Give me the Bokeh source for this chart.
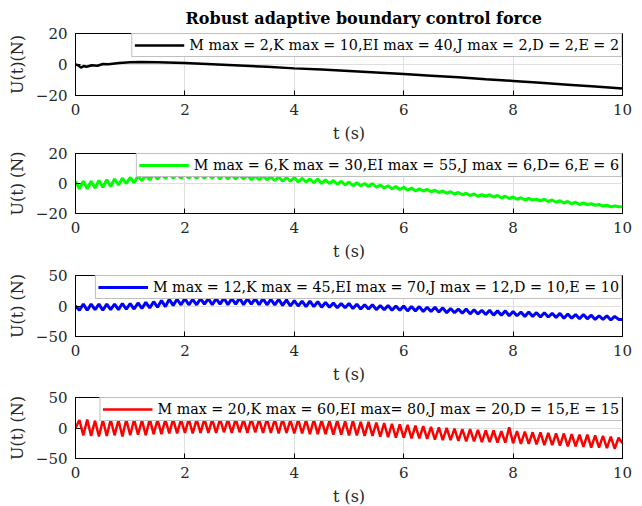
import numpy as np
from bokeh.plotting import figure
from bokeh.layouts import column
from bokeh.models import Range1d, FixedTicker
from bokeh.embed import file_html
from bokeh.resources import INLINE

# ---------------- data ----------------
x_ticks = [0, 2, 4, 6, 8, 10]

t_black = [0, 0.05, 0.1, 0.15, 0.2, 0.3, 0.4, 0.5, 0.6, 0.8, 1.0, 1.2, 1.5, 2.0,
           2.5, 3.0, 3.5, 4.0, 4.5, 5.0, 5.5, 6.0, 6.5, 7.0, 7.5, 8.0, 8.5, 9.0, 9.5, 10.0]
u_black = [0, -0.5, -2.0, -1.0, -1.5, -0.5, -0.8, 0.3, 0.2, 1.0, 1.5, 1.6, 1.5, 1.0,
           0.2, -0.6, -1.5, -2.5, -3.3, -4.2, -5.2, -6.2, -7.2, -8.3, -9.5, -10.6, -11.8, -13.0, -14.2, -15.5]

# sample times of the oscillating responses (141 samples over 0..10 s)
t_osc = list(np.linspace(0, 10, 141))

u_green = [1.5, -3.5, 1.5, -3.5, 1.5, -3, 2, -2.5,
           2.5, -2, 3, -1, 3.5, 0, 4,
           0.5, 5, 2, 5.5, 2.5, 6, 3,
           6, 3.5, 6.5, 3.5, 6, 3.5, 6.5, 3.5, 6, 3.5, 6, 3.5, 6, 3.5,
           6, 3, 6, 3, 5.5, 3, 5.5, 3, 5.5, 2.5, 5, 2.5, 5, 2.5,
           4.5, 2, 4.5, 1.5, 4, 1.5, 4, 1, 3.5, 1, 3, 0.5, 3, 0,
           2.5, 0, 2, -0.5, 1.5, -1, 1, -1.5, 0.5, -1.5, 0, -2, 0, -2.5,
           -1, -3, -1.5, -3.5, -2, -4, -2.5, -4.5, -3, -5, -3.5, -5, -4, -5.5,
           -4.5, -6, -5, -6.5, -5.5, -7, -6, -7.5, -6.5, -8, -7, -8.5, -7.5, -8.5,
           -7.5, -9, -8, -9.5, -8.5, -10, -9, -10.5, -9.5, -11, -10, -11, -10.5, -11.5,
           -10.5, -12, -11, -12.5, -11.5, -13, -12, -13.5, -12.5, -14, -13, -14, -13.5, -14.5,
           -14, -15, -14.5, -15.5, -15, -15.5, -15.5]

u_blue = [0, -7, 3, -7, 3, -6, 3, -7,
          3, -6, 3, -6, 4, -5, 4,
          -5, 5, -4, 6, -3, 7, -2,
          9, -1, 11, 1, 11, 2, 12, 2, 11, 2, 12, 3, 12, 2,
          12, 3, 13, 2, 12, 3, 13, 2, 12, 3, 12, 2, 12, 2,
          11, 2, 11, 1, 10, 0, 9, 0, 8, -1, 8, -1, 7, -2,
          6, -2, 5, -3, 4, -3, 4, -4, 3, -5, 2, -5, 2, -6,
          1, -6, 1, -7, 0, -7, 0, -8, -1, -8, -1, -9, -2, -9,
          -2, -10, -3, -11, -4, -11, -5, -12, -5, -13, -6, -13, -7, -14,
          -7, -15, -8, -15, -8, -16, -9, -16, -10, -17, -10, -17, -11, -18,
          -11, -18, -12, -19, -12, -20, -13, -20, -14, -21, -14, -21, -15, -22,
          -16, -22, -16, -23, -17, -22, -22]

u_red = [0, 13, -12, 14, -13, 12, -14, 13,
         -13, 14, -12, 13, -14, 14, -12,
         14, -11, 13, -12, 15, -10, 14,
         -10, 14, -9, 15, -9, 14, -8, 15, -9, 14, -8, 15, -8, 14,
         -8, 15, -7, 14, -8, 15, -7, 14, -8, 16, -7, 14, -8, 15,
         -8, 14, -9, 15, -8, 13, -9, 14, -9, 13, -10, 14, -10, 13,
         -10, 12, -11, 13, -11, 11, -12, 12, -12, 10, -13, 10, -13, 9,
         -14, 8, -15, 7, -16, 6, -16, 5, -17, 4, -17, 3, -18, 2,
         -19, 1, -20, 0, -20, -1, -21, -2, -22, -2, -22, -3, -23, -4,
         -23, -4, -24, -5, -24, 1, -25, -5, -26, -6, -26, -7, -27, -7,
         -28, -8, -28, -9, -29, -9, -30, -10, -30, -11, -31, -11, -32, -12,
         -32, -13, -33, -14, -34, -16, -25]

labels = ["M max = 2,K max = 10,EI max = 40,J max = 2,D = 2,E = 2",
          "M max = 6,K max = 30,EI max = 55,J max = 6,D= 6,E = 6",
          "M max = 12,K max = 45,EI max = 70,J max = 12,D = 10,E = 10",
          "M max = 20,K max = 60,EI max= 80,J max = 20,D = 15,E = 15"]
y_labels = ["U(t)(N)", "U(t) (N)", "U(t) (N)", "U(t) (N)"]
y_limits = [(-20, 20), (-20, 20), (-50, 50), (-50, 50)]
y_ticks = [[-20, 0, 20], [-20, 0, 20], [-50, 0, 50], [-50, 0, 50]]
title_text = "Robust adaptive boundary control force"

FONT = "DejaVu Serif"

series = [(t_black, u_black, "#000000", 2.5),
          (t_osc, u_green, "#00ff00", 3.0),
          (t_osc, u_blue, "#0000ff", 3.0),
          (t_osc, u_red, "#ff0000", 2.5)]

tops = [33, 7, 8, 8]
frames = [62, 60, 61, 61]
bottoms = [51, 54, 53, 40]

panels = []
for i, (tx, uy, col, lw) in enumerate(series):
    p = figure(frame_width=547, frame_height=frames[i],
               min_border_left=75, min_border_right=20,
               min_border_top=tops[i], min_border_bottom=bottoms[i],
               x_range=Range1d(0, 10), y_range=Range1d(*y_limits[i]),
               output_backend="svg", toolbar_location=None,
               background_fill_color="white", border_fill_color="white")
    if i == 0:
        p.title.text = title_text
        p.title.text_font = FONT
        p.title.text_font_size = "16px"
        p.title.text_font_style = "bold"
        p.title.text_color = "#000000"
        p.title.align = "left"
        p.title.offset = 110
        p.title.standoff = 12
    p.outline_line_color = "black"
    p.outline_line_width = 1
    p.outline_line_alpha = 1

    p.line(tx, uy, line_color=col, line_width=lw, legend_label=labels[i])

    for ax in (p.xaxis[0], p.yaxis[0]):
        ax.major_tick_in = 5
        ax.major_tick_out = 0
        ax.minor_tick_in = 0
        ax.minor_tick_out = 0
        ax.axis_line_color = "black"
        ax.major_tick_line_color = "black"
        ax.major_label_text_font = FONT
        ax.major_label_text_font_size = "15px"
        ax.major_label_text_color = "#262626"
        ax.axis_label_text_font = FONT
        ax.axis_label_text_font_size = "16px"
        ax.axis_label_text_font_style = "normal"
        ax.axis_label_text_color = "#262626"
    p.xaxis[0].ticker = FixedTicker(ticks=x_ticks)
    p.yaxis[0].ticker = FixedTicker(ticks=y_ticks[i])
    p.xaxis[0].axis_label = "t (s)"
    p.yaxis[0].axis_label = y_labels[i]
    p.xaxis[0].major_label_standoff = 8
    p.xaxis[0].axis_label_standoff = 6
    p.yaxis[0].major_label_standoff = 8
    p.yaxis[0].axis_label_standoff = 6

    p.xgrid.ticker = FixedTicker(ticks=x_ticks)
    p.ygrid.ticker = FixedTicker(ticks=y_ticks[i])
    p.grid.grid_line_color = "#dfdfdf"
    p.grid.grid_line_width = 1

    lg = p.legend[0]
    lg.location = "top_right"
    lg.margin = 0
    lg.padding = 2
    lg.spacing = 0
    lg.glyph_width = 50
    lg.glyph_height = 18
    lg.label_standoff = 5
    lg.label_text_font = FONT
    lg.label_text_font_size = "14.3px"
    lg.label_text_color = "#000000"
    lg.border_line_color = "#7f7f7f"
    lg.border_line_width = 1.5
    lg.background_fill_alpha = 1
    lg.label_height = 18
    panels.append(p)

layout = column(*panels, spacing=0)
open("out.html", "w").write(file_html(layout, INLINE))
